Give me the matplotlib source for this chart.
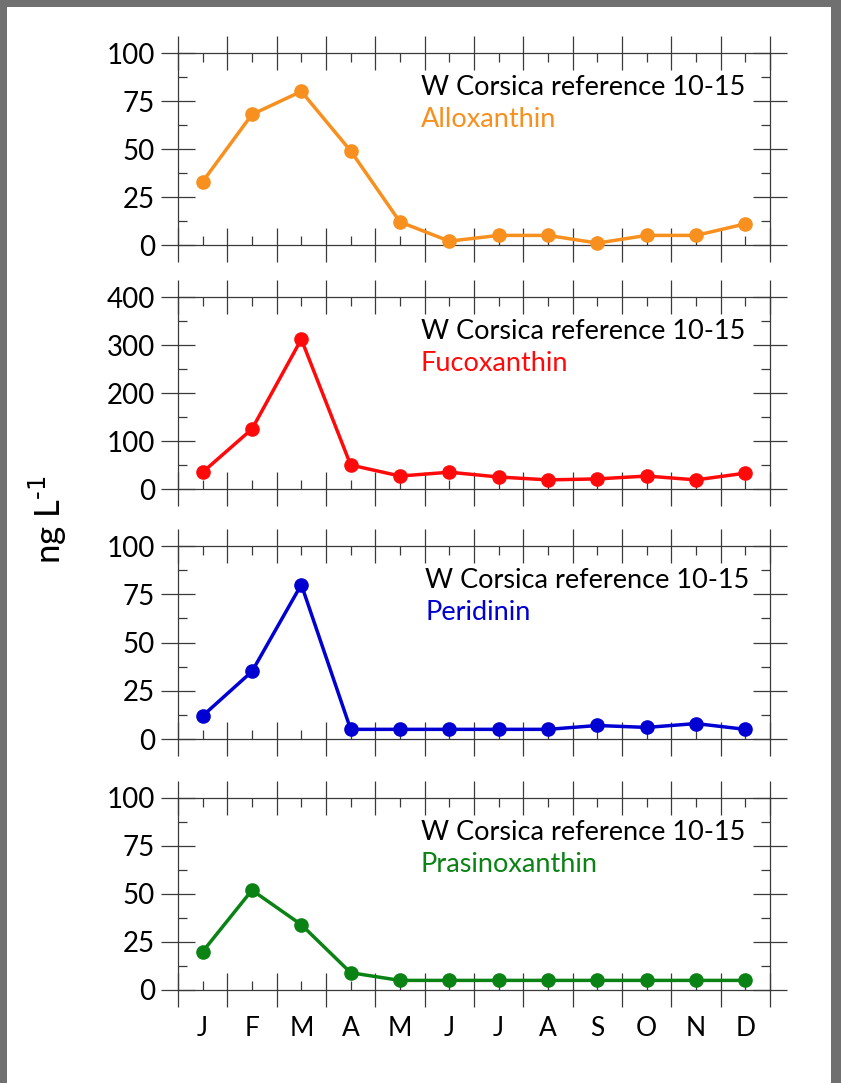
import matplotlib
matplotlib.use("Agg")
import matplotlib.pyplot as plt
from matplotlib.patches import Rectangle
from matplotlib.ticker import MultipleLocator, FixedLocator, NullFormatter

plt.rcParams["font.family"] = ["Lato", "DejaVu Sans"]

months = ["J", "F", "M", "A", "M", "J", "J", "A", "S", "O", "N", "D"]
site_label = "W Corsica reference 10-15"

alloxanthin = [33, 68, 80, 49, 12, 2, 5, 5, 1, 5, 5, 11]
fucoxanthin = [35, 125, 312, 50, 27, 35, 25, 19, 21, 27, 19, 33]
peridinin = [12, 35, 80, 5, 5, 5, 5, 5, 7, 6, 8, 5]
prasinoxanthin = [20, 52, 34, 9, 5, 5, 5, 5, 5, 5, 5, 5]

pigments = ["Alloxanthin", "Fucoxanthin", "Peridinin", "Prasinoxanthin"]
series = [alloxanthin, fucoxanthin, peridinin, prasinoxanthin]
colors = ["#f7901e", "#ff0a0a", "#0000d2", "#0a8214"]
ymax = [100, 400, 100, 100]

# panel frames in pixels (top, bottom) of the 841x1083 canvas
W, H = 841, 1083
frames = [(53, 245), (297, 489), (546, 739), (798, 990)]
x_left, x_right = 178, 770
axcol = "#3a3a3a"

fig = plt.figure(figsize=(W / 100, H / 100), dpi=100)

# grey screenshot border
fig.patches.append(Rectangle((0, 0), 1, 1, transform=fig.transFigure,
                             facecolor="#707070", edgecolor="none", zorder=-20))
fig.patches.append(Rectangle((7 / W, 0), (831 - 7) / W, 1 - 7 / H,
                             transform=fig.transFigure, facecolor="white",
                             edgecolor="none", zorder=-19))

xpos = [i + 0.5 for i in range(len(months))]

for k, (name, vals, col, top) in enumerate(zip(pigments, series, colors, ymax)):
    t, b = frames[k]
    ax = fig.add_axes([x_left / W, 1 - b / H, (x_right - x_left) / W, (b - t) / H])
    ax.patch.set_alpha(0)
    ax.plot(xpos, vals, color=col, lw=2.5, marker="o", ms=9.5, clip_on=False, zorder=5)
    ax.set_xlim(0, 12)
    ax.set_ylim(0, top)

    ax.xaxis.set_major_locator(MultipleLocator(1))
    ax.xaxis.set_minor_locator(FixedLocator(xpos))
    ax.yaxis.set_major_locator(MultipleLocator(top / 4))
    ax.yaxis.set_minor_locator(MultipleLocator(top / 8))
    ax.xaxis.set_major_formatter(NullFormatter())
    if k == len(pigments) - 1:
        ax.set_xticks(xpos, months, minor=True)
    else:
        ax.xaxis.set_minor_formatter(NullFormatter())

    for s in ax.spines.values():
        s.set_color(axcol)
        s.set_linewidth(0.9)
    ax.tick_params(which="major", direction="inout", length=25, width=0.9,
                   color=axcol, top=True, right=True, labelsize=20, pad=2)
    ax.tick_params(which="minor", direction="in", length=6.5, width=0.9,
                   color=axcol, top=True, right=True, labelsize=19)
    ax.tick_params(axis="x", which="minor", pad=19)
    ax.tick_params(axis="y", which="major", pad=4)

    tx = 0.41 if k != 2 else 0.418
    ax.text(tx, 0.78, site_label, transform=ax.transAxes, fontsize=19.5,
            color="black", va="baseline", ha="left")
    ax.text(tx, 0.615, name, transform=ax.transAxes, fontsize=19.5,
            color=col, va="baseline", ha="left")

fig.text(48 / W, 1 - 520 / H, r"ng L$^{\text{-1}}$", rotation=90, fontsize=25,
         ha="center", va="center")

fig.savefig("out.png", dpi=100)
